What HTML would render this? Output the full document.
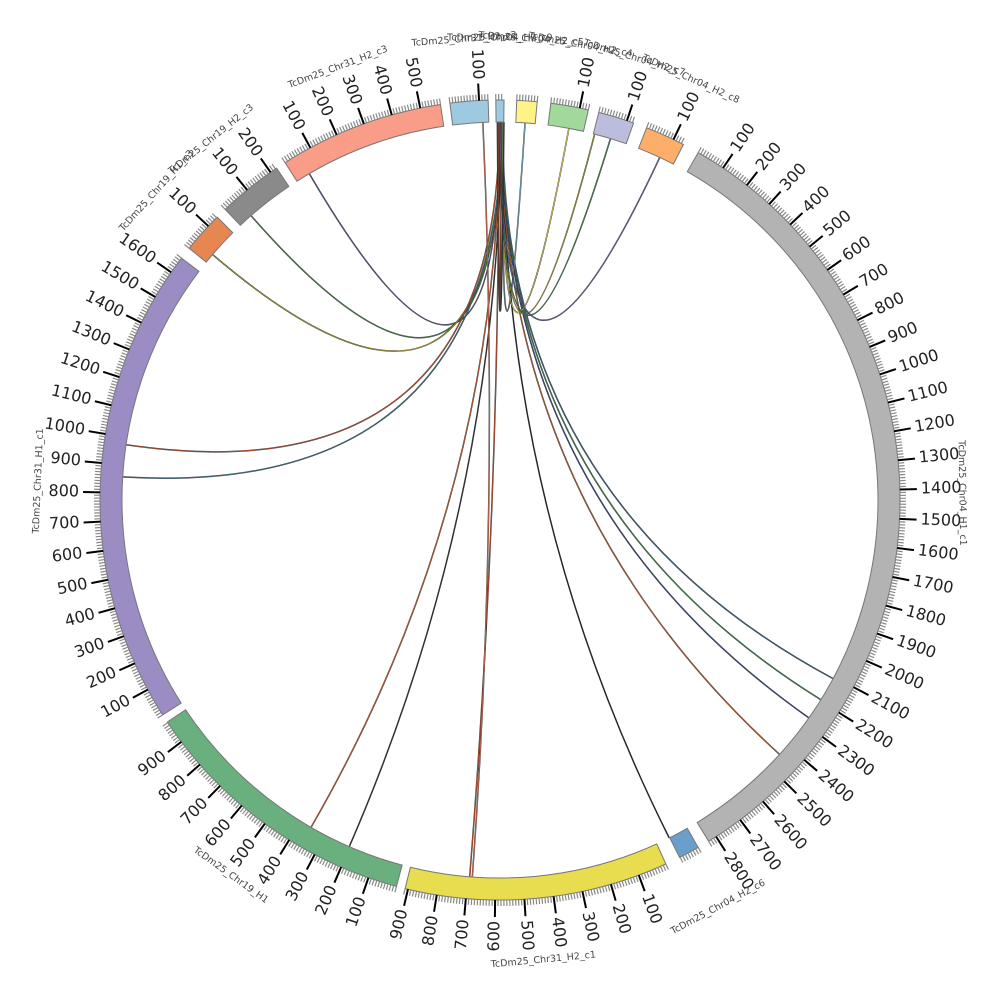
<!DOCTYPE html>
<html><head><meta charset="utf-8"><style>
html,body{margin:0;padding:0;background:#fff;width:1000px;height:1000px;overflow:hidden}
svg{display:block}
text{font-family:"DejaVu Sans","Liberation Sans",sans-serif}
</style></head><body>
<svg id="s" width="1000" height="1000" viewBox="0 0 1000 1000" xmlns="http://www.w3.org/2000/svg"></svg>
<script>
const CX=500,CY=500,RI=378,RO=400,K=0.042;
const segs=[
 {n:"TcDm25_Chr04_H1_c1",s:29.7,len:2830,c:"#b3b3b3"},
 {n:"TcDm25_Chr04_H2_c6",s:150.3,len:72,c:"#6a9fcc"},
 {n:"TcDm25_Chr31_H2_c1",s:155.5,len:910,c:"#e8dc4f"},
 {n:"TcDm25_Chr19_H1",s:195.0,len:983,c:"#6ab07e"},
 {n:"TcDm25_Chr31_H1_c1",s:237.5,len:1660,c:"#9b8cc4"},
 {n:"TcDm25_Chr19_H1_c3",s:309.0,len:143,c:"#e68752"},
 {n:"TcDm25_Chr19_H2_c3",s:316.6,len:225,c:"#8a8a8a"},
 {n:"TcDm25_Chr31_H2_c3",s:327.5,len:570,c:"#f99c88"},
 {n:"TcDm25_Chr31_H2_c2",s:352.8,len:131,c:"#9ecae1"},
 {n:"TcDm25_Chr04_H2_c9",s:359.4,len:28,c:"#9ecae1"},
 {n:"TcDm25_Chr04_H2_c5",s:2.4,len:70,c:"#fff387"},
 {n:"TcDm25_Chr04_H2_c4",s:7.3,len:130,c:"#a1d99b"},
 {n:"TcDm25_Chr04_H2_c7",s:14.3,len:124,c:"#bcbddc"},
 {n:"TcDm25_Chr04_H2_c8",s:21.5,len:138,c:"#fdae6b"}
];
function P(a,r){const t=a*Math.PI/180;return [CX+r*Math.sin(t),CY-r*Math.cos(t)];}
let h="";
const links=[[0.0,329.7,"#5a5a8a"],[0.1,318.8,"#4a8a4a"],[0.2,310.5,"#a8a030"],[359.9,278.4,"#d0502a"],[0.3,273.5,"#3a7a8a"],
[0.0,210,"#d0602a"],[0.2,203.5,"#333"],[359.8,184.6,"#d0502a"],[357.4,184.2,"#e07050"],[0.4,153.4,"#222"],
[0.1,132.3,"#c0602a"],[0.2,125.2,"#3a4a8a"],[0.3,121.9,"#3a8a4a"],[0.4,118.2,"#3a6a8a"],
[3.8,0.5,"#7ab6d8"],[10.5,0.3,"#f0e060"],[14.5,0.2,"#a8a030"],[17,0.1,"#4a8a4a"],[25,0.0,"#6a6aa0"],[359.6,0.6,"#333"],[0.2,359.7,"#8a4a2a"]];
for(const [a,b,c] of links){const p=P(a,RI),q=P(b,RI);const d=`M${p[0]},${p[1]} Q${CX},${CY} ${q[0]},${q[1]}`;
 h+=`<path d="${d}" fill="none" stroke="#333" stroke-width="1.5"/><path d="${d}" fill="none" stroke="${c}" stroke-width="0.7"/>`;}
for(const g of segs){
 const e=g.s+g.len*K;
 const a=P(g.s,RO),b=P(e,RO),c=P(e,RI),d=P(g.s,RI);const lg=(e-g.s)>180?1:0;
 h+=`<path d="M${a} A${RO},${RO} 0 ${lg} 1 ${b} L${c} A${RI},${RI} 0 ${lg} 0 ${d}Z" fill="${g.c}" stroke="#777" stroke-width="1"/>`;
 for(let u=0;u<=g.len;u+=10){const an=g.s+u*K;
  if(u>0&&u%100==0){const p1=P(an,RO),p2=P(an,417);h+=`<line x1="${p1[0]}" y1="${p1[1]}" x2="${p2[0]}" y2="${p2[1]}" stroke="#000" stroke-width="2"/>`;
   const lp=P(an,421);let rot,anc;if(an<180){rot=an-90;anc="start";}else{rot=an+90;anc="end";}
   h+=`<text x="${lp[0]}" y="${lp[1]}" font-size="16" fill="#222" text-anchor="${anc}" dominant-baseline="middle" transform="rotate(${rot} ${lp[0]} ${lp[1]})">${u}</text>`;}
  else{const p1=P(an,RO),p2=P(an,406);h+=`<line x1="${p1[0]}" y1="${p1[1]}" x2="${p2[0]}" y2="${p2[1]}" stroke="#888" stroke-width="1.2"/>`;}
 }
 const m=(g.s+e)/2;const lp=P(m,462);let rot=(m>90&&m<270)?m+180:m;
 h+=`<text x="${lp[0]}" y="${lp[1]}" font-size="9.5" fill="#444" text-anchor="middle" dominant-baseline="middle" transform="rotate(${rot} ${lp[0]} ${lp[1]})">${g.n}</text>`;
}
document.getElementById("s").innerHTML=h;
</script>
</body></html>
